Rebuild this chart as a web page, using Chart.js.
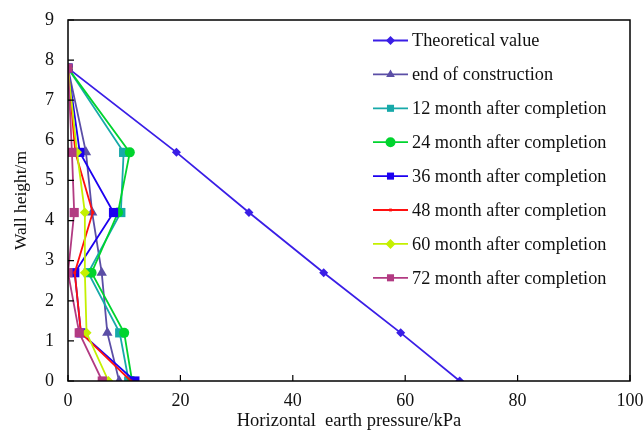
<!DOCTYPE html>
<html>
<head>
<meta charset="utf-8">
<script src="https://cdn.jsdelivr.net/npm/chart.js@4/dist/chart.umd.min.js"></script>
<style>
html,body{margin:0;padding:0;background:#fff;}
#wrap{width:643px;height:437px;position:relative;}
</style>
</head>
<body>
<div id="wrap"><canvas id="c"></canvas></div>
<script>
const heights = [0, 1.2, 2.7, 4.2, 5.7, 7.8];
const seriesNames = ["Theoretical value","end of construction","12 month after completion","24 month after completion","36 month after completion","48 month after completion","60 month after completion","72 month after completion"];
const theoretical = [69.7, 59.2, 45.5, 32.2, 19.3, 0];
const endConstruction = [9.1, 7.0, 6.0, 4.3, 3.2, 0];
const month12 = [10.8, 9.2, 3.6, 9.4, 9.9, 0];
const month24 = [11.4, 10.0, 4.2, 8.9, 11.0, 0];
const month36 = [11.9, 2.3, 1.2, 8.1, 2.1, 0];
const month48 = [11.2, 2.3, 1.2, 4.4, 1.3, 0];
const month60 = [7.2, 3.3, 3.0, 3.0, 1.6, 0];
const month72 = [6.1, 2.0, 0.0, 1.1, 0.7, 0];
const xTicks = [0, 20, 40, 60, 80, 100];
const yTicks = [0, 1, 2, 3, 4, 5, 6, 7, 8, 9];

const allValues = [theoretical, endConstruction, month12, month24, month36, month48, month60, month72];
const colors = ['#3a1ee6','#5b4ea6','#17a9a9','#00d42e','#1c00f0','#ff1010','#c4f000','#b23a82'];
const styles = ['rectRot','triangle','rect','circle','rect','rect','rectRot','rect'];
const radii = [4.5, 6, 6.5, 5, 6.5, 2, 5, 6.5];

const datasets = allValues.map((vals, i) => ({
  label: seriesNames[i],
  data: vals.map((v, k) => ({x: v, y: heights[k]})),
  borderColor: colors[i],
  backgroundColor: colors[i],
  pointBackgroundColor: colors[i],
  pointBorderColor: colors[i],
  pointStyle: styles[i],
  pointRadius: radii[i],
  pointBorderWidth: 0,
  borderWidth: 1.8,
  tension: 0,
  order: 8 - i
}));

const FONT = "'Liberation Serif','DejaVu Serif',serif";

function drawMarker(ctx, style, x, y, r, color) {
  ctx.save();
  ctx.fillStyle = color;
  ctx.beginPath();
  if (style === 'rectRot') {
    ctx.moveTo(x, y - r); ctx.lineTo(x + r, y); ctx.lineTo(x, y + r); ctx.lineTo(x - r, y); ctx.closePath();
  } else if (style === 'triangle') {
    ctx.moveTo(x, y - r); ctx.lineTo(x + r * 0.87, y + r * 0.5); ctx.lineTo(x - r * 0.87, y + r * 0.5); ctx.closePath();
  } else if (style === 'circle') {
    ctx.arc(x, y, r, 0, Math.PI * 2);
  } else {
    const s = r * Math.SQRT1_2;
    ctx.rect(x - s, y - s, 2 * s, 2 * s);
  }
  ctx.fill();
  ctx.restore();
}

const framePlugin = {
  id: 'frame',
  afterDraw(chart) {
    const ctx = chart.ctx, a = chart.chartArea;
    ctx.save();
    ctx.strokeStyle = '#000';
    ctx.lineWidth = 1.5;
    ctx.strokeRect(a.left, a.top, a.right - a.left, a.bottom - a.top);
    const xs = chart.scales.x, ys = chart.scales.y;
    ctx.lineWidth = 1.2;
    ctx.beginPath();
    xTicks.forEach(t => { const px = xs.getPixelForValue(t); ctx.moveTo(px, a.bottom); ctx.lineTo(px, a.bottom - 6); });
    yTicks.forEach(t => { const py = ys.getPixelForValue(t); ctx.moveTo(a.left, py); ctx.lineTo(a.left + 6, py); });
    ctx.stroke();
    const lx0 = 373, lx1 = 408, tx = 412, y0 = 40.5, dy = 33.9;
    ctx.font = "18.3px " + FONT;
    ctx.textBaseline = 'middle';
    ctx.textAlign = 'left';
    datasets.forEach((d, i) => {
      const y = y0 + i * dy;
      ctx.strokeStyle = d.borderColor;
      ctx.lineWidth = 1.8;
      ctx.beginPath(); ctx.moveTo(lx0, y); ctx.lineTo(lx1, y); ctx.stroke();
      drawMarker(ctx, d.pointStyle, (lx0 + lx1) / 2, y, Math.min(d.pointRadius, 5), d.borderColor);
      ctx.fillStyle = '#111';
      ctx.fillText(d.label, tx, y + 1);
    });
    ctx.restore();
  }
};

new Chart(document.getElementById('c'), {
  type: 'line',
  data: { datasets },
  options: {
    responsive: true,
    maintainAspectRatio: false,
    animation: false,
    layout: { padding: { top: 20, right: 13, left: 0, bottom: 0 } },
    plugins: { legend: { display: false }, tooltip: { enabled: false } },
    scales: {
      x: {
        type: 'linear', min: 0, max: 100,
        afterBuildTicks(s) { s.ticks = xTicks.map(v => ({value: v})); },
        afterFit(s) { s.height = 56; s.paddingLeft = 0; s.paddingRight = 0; },
        grid: { display: false, drawTicks: false },
        border: { display: false },
        ticks: { color: '#111', font: { family: FONT, size: 18 }, padding: 9, maxRotation: 0 },
        title: { display: true, text: 'Horizontal  earth pressure/kPa', color: '#111', font: { family: FONT, size: 18.5 }, padding: { top: 0, bottom: 5 } }
      },
      y: {
        type: 'linear', min: 0, max: 9,
        afterBuildTicks(s) { s.ticks = yTicks.map(v => ({value: v})); },
        afterFit(s) { s.width = 68; s.paddingTop = 0; s.paddingBottom = 0; },
        grid: { display: false, drawTicks: false },
        border: { display: false },
        ticks: { color: '#111', font: { family: FONT, size: 18 }, padding: 14 },
        title: { display: true, text: 'Wall height/m', color: '#111', font: { family: FONT, size: 17.5 }, padding: { top: 11, bottom: 0 } }
      }
    }
  },
  plugins: [framePlugin]
});
</script>
</body>
</html>
